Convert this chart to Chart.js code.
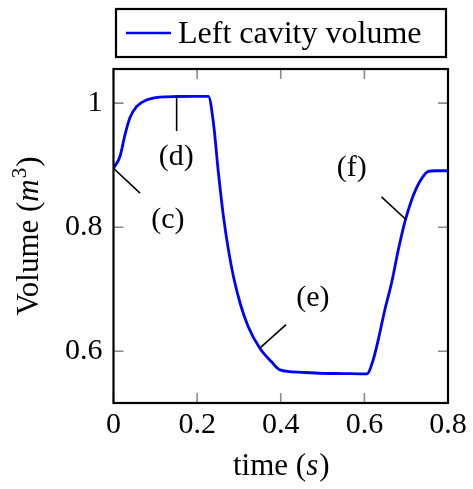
<!DOCTYPE html>
<html>
<head>
<meta charset="utf-8">
<script src="https://cdn.jsdelivr.net/npm/chart.js@4.4.1/dist/chart.umd.min.js"></script>
<style>
  html, body { margin: 0; padding: 0; background: #fff; }
  #wrap { width: 473px; height: 489px; position: relative; }
</style>
</head>
<body>
<div id="wrap"><canvas id="c"></canvas></div>
<script>
// ---- data ----
const timeValues = [0, 0.0155, 0.0275, 0.039, 0.055, 0.079, 0.111, 0.151, 0.19, 0.227,
  0.239, 0.251, 0.263, 0.275, 0.287, 0.303, 0.322, 0.350, 0.378, 0.398,
  0.45, 0.5, 0.55, 0.606, 0.621, 0.633, 0.649, 0.665, 0.681, 0.697,
  0.713, 0.733, 0.753, 0.77, 0.8];
const volumeValues = [0.895, 0.914, 0.949, 0.976, 0.9945, 1.005, 1.0097, 1.0107, 1.011, 1.011,
  0.968, 0.887, 0.817, 0.763, 0.720, 0.677, 0.640, 0.605, 0.583, 0.570,
  0.566, 0.5645, 0.564, 0.5635, 0.586, 0.618, 0.667, 0.710, 0.763, 0.809,
  0.844, 0.874, 0.890, 0.891, 0.891];
const seriesName = 'Left cavity volume';
const xTickValues = [0, 0.2, 0.4, 0.6, 0.8];
const xTickLabels = ['0', '0.2', '0.4', '0.6', '0.8'];
const yTickValues = [0.6, 0.8, 1.0];
const yTickLabels = ['0.6', '0.8', '1'];
const xRange = [0, 0.8];
const yRange = [0.5166, 1.055];
// annotations: label, line from (t0,v0) to (t1,v1), label at (tl,vl)
const annotLabels = ['(c)', '(d)', '(e)', '(f)'];
const annotStart = [[0, 0.895], [0.151, 1.011], [0.350, 0.605], [0.700, 0.812]];
const annotEnd = [[0.0634, 0.855], [0.151, 0.955], [0.4126, 0.643], [0.641, 0.849]];
const annotText = [[0.130, 0.812], [0.150, 0.913], [0.477, 0.686], [0.570, 0.896]];

const SERIF = '"Liberation Serif", "Times New Roman", serif';
const tickFont = { family: SERIF, size: 30 };

const framePlugin = {
  id: 'frame',
  afterDraw(chart) {
    const ctx = chart.ctx;
    const a = chart.chartArea;
    const xs = chart.scales.x, ys = chart.scales.y;
    ctx.save();
    // inward ticks (gray) on all four sides
    ctx.strokeStyle = '#8a8a8a';
    ctx.lineWidth = 1.6;
    const tl = 10;
    xTickValues.forEach(v => {
      const px = xs.getPixelForValue(v);
      ctx.beginPath();
      ctx.moveTo(px, a.bottom); ctx.lineTo(px, a.bottom - tl);
      ctx.moveTo(px, a.top); ctx.lineTo(px, a.top + tl);
      ctx.stroke();
    });
    yTickValues.forEach(v => {
      const py = ys.getPixelForValue(v);
      ctx.beginPath();
      ctx.moveTo(a.left, py); ctx.lineTo(a.left + tl, py);
      ctx.moveTo(a.right, py); ctx.lineTo(a.right - tl, py);
      ctx.stroke();
    });
    // annotations
    ctx.strokeStyle = '#000';
    ctx.lineWidth = 1.6;
    ctx.fillStyle = '#000';
    ctx.font = '30px ' + SERIF;
    ctx.textAlign = 'center';
    ctx.textBaseline = 'middle';
    annotLabels.forEach((lab, i) => {
      ctx.beginPath();
      ctx.moveTo(xs.getPixelForValue(annotStart[i][0]), ys.getPixelForValue(annotStart[i][1]));
      ctx.lineTo(xs.getPixelForValue(annotEnd[i][0]), ys.getPixelForValue(annotEnd[i][1]));
      ctx.stroke();
      ctx.fillText(lab, xs.getPixelForValue(annotText[i][0]), ys.getPixelForValue(annotText[i][1]));
    });
    // frame
    ctx.strokeStyle = '#000';
    ctx.lineWidth = 2.2;
    ctx.strokeRect(a.left, a.top, a.right - a.left, a.bottom - a.top);
    // axis titles
    ctx.fillStyle = '#000';
    ctx.textBaseline = 'alphabetic';
    ctx.textAlign = 'left';
    const cx = (a.left + a.right) / 2;
    const p1 = 'time (', p2 = 's', p3 = ')';
    ctx.font = '31px ' + SERIF;
    const w1 = ctx.measureText(p1).width, w3 = ctx.measureText(p3).width;
    ctx.font = 'italic 31px ' + SERIF;
    const w2 = ctx.measureText(p2).width;
    let x0 = cx - (w1 + w2 + w3) / 2;
    const by = 475;
    ctx.font = '31px ' + SERIF; ctx.fillText(p1, x0, by);
    ctx.font = 'italic 31px ' + SERIF; ctx.fillText(p2, x0 + w1, by);
    ctx.font = '31px ' + SERIF; ctx.fillText(p3, x0 + w1 + w2 + 1, by);
    // y title rotated
    ctx.save();
    ctx.translate(38, (a.top + a.bottom) / 2);
    ctx.rotate(-Math.PI / 2);
    const q1 = 'Volume (', q2 = 'm', q3 = '3', q4 = ')';
    ctx.font = '31px ' + SERIF;
    const v1 = ctx.measureText(q1).width, v4 = ctx.measureText(q4).width;
    ctx.font = 'italic 31px ' + SERIF;
    const v2 = ctx.measureText(q2).width;
    ctx.font = '21px ' + SERIF;
    const v3 = ctx.measureText(q3).width;
    let y0 = -(v1 + v2 + v3 + v4 + 2) / 2;
    ctx.font = '31px ' + SERIF; ctx.fillText(q1, y0, 0);
    ctx.font = 'italic 31px ' + SERIF; ctx.fillText(q2, y0 + v1, 0);
    ctx.font = '21px ' + SERIF; ctx.fillText(q3, y0 + v1 + v2 + 1, -12);
    ctx.font = '31px ' + SERIF; ctx.fillText(q4, y0 + v1 + v2 + v3 + 2, 0);
    ctx.restore();
    // legend
    ctx.lineWidth = 2.2;
    ctx.strokeStyle = '#000';
    ctx.strokeRect(116, 9, 330, 48);
    ctx.strokeStyle = chart.data.datasets[0].borderColor;
    ctx.lineWidth = 2.5;
    ctx.beginPath(); ctx.moveTo(126, 33); ctx.lineTo(171, 33); ctx.stroke();
    ctx.fillStyle = '#000';
    ctx.font = '32px ' + SERIF;
    ctx.textAlign = 'left';
    ctx.fillText(chart.data.datasets[0].label, 178, 43);
    ctx.restore();
  }
};

new Chart(document.getElementById('c'), {
  type: 'line',
  data: {
    datasets: [{
      label: seriesName,
      data: timeValues.map((t, i) => ({ x: t, y: volumeValues[i] })),
      borderColor: '#0000ff',
      borderWidth: 2.8,
      pointRadius: 0,
      fill: false,
      cubicInterpolationMode: 'monotone'
    }]
  },
  options: {
    responsive: true,
    maintainAspectRatio: false,
    animation: false,
    events: [],
    layout: { padding: { left: 0, top: 69, right: 25, bottom: 0 } },
    plugins: { legend: { display: false }, tooltip: { enabled: false } },
    scales: {
      x: {
        type: 'linear', min: xRange[0], max: xRange[1],
        grid: { display: false, drawTicks: false },
        border: { display: false },
        afterBuildTicks: s => { s.ticks = xTickValues.map(v => ({ value: v })); },
        afterFit: s => { s.height = 86; },
        ticks: {
          font: tickFont, color: '#000', padding: 4, maxRotation: 0, autoSkip: false,
          callback: (v) => xTickLabels[xTickValues.indexOf(v)] ?? ''
        }
      },
      y: {
        type: 'linear', min: yRange[0], max: yRange[1],
        grid: { display: false, drawTicks: false },
        border: { display: false },
        afterBuildTicks: s => { s.ticks = yTickValues.map(v => ({ value: v })); },
        afterFit: s => { s.width = 113.5; },
        ticks: {
          font: tickFont, color: '#000', padding: 11, autoSkip: false,
          callback: (v) => yTickLabels[yTickValues.indexOf(v)] ?? ''
        }
      }
    }
  },
  plugins: [framePlugin]
});
</script>
</body>
</html>
